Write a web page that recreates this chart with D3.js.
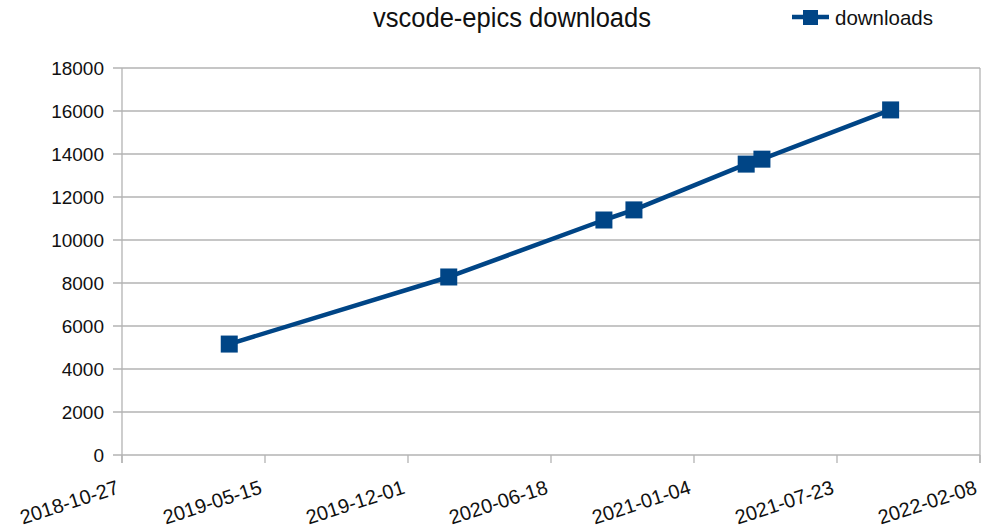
<!DOCTYPE html>
<html>
<head>
<meta charset="utf-8">
<script src="https://cdn.jsdelivr.net/npm/d3@7"></script>
<style>
  body { margin: 0; background: #fff; }
  svg { display: block; font-family: "Liberation Sans", Arial, sans-serif; }
</style>
</head>
<body>
<svg id="chart" width="984" height="527"></svg>
<script>
// values
const dates = ["2019-03-26", "2020-01-27", "2020-08-31", "2020-10-12", "2021-03-18", "2021-04-09", "2021-10-06"];
const downloads = [5160, 8280, 10930, 11400, 13530, 13760, 16050];
const xTickLabels = ["2018-10-27", "2019-05-15", "2019-12-01", "2020-06-18", "2021-01-04", "2021-07-23", "2022-02-08"];
const yTicks = [0, 2000, 4000, 6000, 8000, 10000, 12000, 14000, 16000, 18000];

const parse = d3.utcParse("%Y-%m-%d");
const fmt = d3.utcFormat("%Y-%m-%d");
const points = dates.map((d, i) => ({ date: parse(d), value: downloads[i] }));
const xTicks = xTickLabels.map(parse);

const margin = { left: 122, right: 4, top: 68, bottom: 72 };
const width = 984, height = 527;
const svg = d3.select("#chart");

const x = d3.scaleUtc().domain([xTicks[0], xTicks[xTicks.length - 1]]).range([margin.left, width - margin.right]);
const y = d3.scaleLinear().domain([0, 18000]).range([height - margin.bottom, margin.top]);

const grid = "#b3b3b3";

// horizontal grid
svg.append("g").selectAll("line").data(yTicks).enter().append("line")
  .attr("x1", margin.left - 9).attr("x2", width - margin.right)
  .attr("y1", (d) => y(d)).attr("y2", (d) => y(d))
  .attr("stroke", grid).attr("stroke-width", 1.3);

// axis lines
svg.append("line").attr("x1", margin.left).attr("x2", margin.left)
  .attr("y1", margin.top).attr("y2", y(0) + 8).attr("stroke", grid).attr("stroke-width", 1.3);
svg.append("line").attr("x1", width - margin.right).attr("x2", width - margin.right)
  .attr("y1", margin.top).attr("y2", y(0) + 8).attr("stroke", grid).attr("stroke-width", 1.3);

// x ticks
svg.append("g").selectAll("line").data(xTicks).enter().append("line")
  .attr("x1", (d) => x(d)).attr("x2", (d) => x(d))
  .attr("y1", y(0)).attr("y2", y(0) + 8)
  .attr("stroke", grid).attr("stroke-width", 1.3);

// y labels
svg.append("g").selectAll("text").data(yTicks).enter().append("text")
  .attr("x", 104).attr("y", (d) => y(d) + 7)
  .attr("text-anchor", "end").attr("font-size", 19).attr("fill", "#111")
  .text((d) => d);

// x labels, rotated
svg.append("g").selectAll("text").data(xTicks).enter().append("text")
  .attr("transform", (d) => `translate(${x(d) - 2},${y(0) + 38}) rotate(-18)`)
  .attr("text-anchor", "end").attr("font-size", 20).attr("fill", "#111")
  .text((d) => fmt(d));

// series line
const color = "#004586";
svg.append("path").datum(points)
  .attr("fill", "none").attr("stroke", color).attr("stroke-width", 4.5)
  .attr("stroke-linejoin", "round")
  .attr("d", d3.line().x((d) => x(d.date)).y((d) => y(d.value)));

const size = 17;
svg.append("g").selectAll("rect").data(points).enter().append("rect")
  .attr("x", (d) => x(d.date) - size / 2).attr("y", (d) => y(d.value) - size / 2)
  .attr("width", size).attr("height", size).attr("fill", color);

// title
svg.append("text").attr("x", 373).attr("y", 27)
  .attr("font-size", 27).attr("fill", "#111")
  .attr("textLength", 278).attr("lengthAdjust", "spacingAndGlyphs")
  .text("vscode-epics downloads");

// legend
svg.append("line").attr("x1", 792).attr("x2", 829).attr("y1", 17).attr("y2", 17)
  .attr("stroke", color).attr("stroke-width", 4.5);
svg.append("rect").attr("x", 803).attr("y", 10).attr("width", 15).attr("height", 15).attr("fill", color);
svg.append("text").attr("x", 835).attr("y", 25).attr("font-size", 21).attr("fill", "#111")
  .attr("textLength", 98).attr("lengthAdjust", "spacingAndGlyphs")
  .text("downloads");
</script>
</body>
</html>
